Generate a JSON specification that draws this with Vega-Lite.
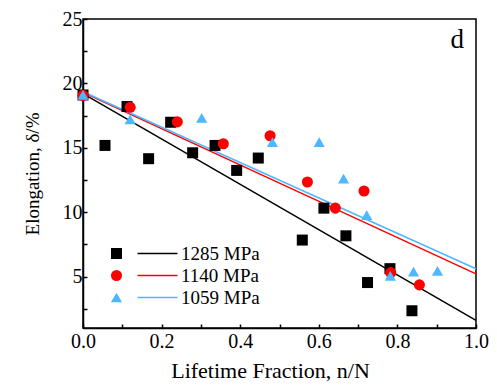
{
  "$schema": "https://vega.github.io/schema/vega-lite/v6.json",
  "width": 393,
  "height": 309,
  "autosize": {"type": "none"},
  "padding": {"left": 83, "top": 19, "right": 21, "bottom": 57},
  "background": "white",
  "config": {
    "view": {"stroke": "black", "strokeWidth": 1.5},
    "font": "Liberation Serif",
    "axis": {
      "grid": false,
      "labelFlush": false,
      "domainColor": "black",
      "domainWidth": 1.5,
      "tickColor": "black",
      "tickWidth": 1.5,
      "labelColor": "black",
      "labelFont": "Liberation Serif",
      "labelFontSize": 20,
      "titleFont": "Liberation Serif",
      "titleFontSize": 22,
      "titleFontWeight": "normal",
      "titleColor": "black"
    }
  },
  "datasets": {
    "points": [
      {"series": "1285", "x": 0.0, "y": 19.1},
      {"series": "1285", "x": 0.056, "y": 15.18},
      {"series": "1285", "x": 0.112, "y": 18.2},
      {"series": "1285", "x": 0.167, "y": 14.15},
      {"series": "1285", "x": 0.223, "y": 16.98},
      {"series": "1285", "x": 0.279, "y": 14.61},
      {"series": "1285", "x": 0.336, "y": 15.18},
      {"series": "1285", "x": 0.391, "y": 13.24},
      {"series": "1285", "x": 0.446, "y": 14.2},
      {"series": "1285", "x": 0.558, "y": 7.83},
      {"series": "1285", "x": 0.613, "y": 10.31},
      {"series": "1285", "x": 0.669, "y": 8.16},
      {"series": "1285", "x": 0.724, "y": 4.53},
      {"series": "1285", "x": 0.781, "y": 5.61},
      {"series": "1285", "x": 0.837, "y": 2.34},
      {"series": "1140", "x": 0.0, "y": 19.07},
      {"series": "1140", "x": 0.12, "y": 18.14},
      {"series": "1140", "x": 0.24, "y": 17.01},
      {"series": "1140", "x": 0.357, "y": 15.31},
      {"series": "1140", "x": 0.476, "y": 15.93},
      {"series": "1140", "x": 0.571, "y": 12.34},
      {"series": "1140", "x": 0.642, "y": 10.31},
      {"series": "1140", "x": 0.715, "y": 11.64},
      {"series": "1140", "x": 0.783, "y": 5.3},
      {"series": "1140", "x": 0.856, "y": 4.35},
      {"series": "1059", "x": 0.0, "y": 19.1},
      {"series": "1059", "x": 0.12, "y": 17.2},
      {"series": "1059", "x": 0.302, "y": 17.32},
      {"series": "1059", "x": 0.482, "y": 15.44},
      {"series": "1059", "x": 0.601, "y": 15.44},
      {"series": "1059", "x": 0.663, "y": 12.6},
      {"series": "1059", "x": 0.722, "y": 9.76},
      {"series": "1059", "x": 0.782, "y": 5.05},
      {"series": "1059", "x": 0.841, "y": 5.38},
      {"series": "1059", "x": 0.902, "y": 5.43}
    ],
    "fits": [
      {"fit": "1285 MPa", "x": 0.0, "y": 19.2},
      {"fit": "1285 MPa", "x": 1.0, "y": 1.6},
      {"fit": "1140 MPa", "x": 0.0, "y": 19.3},
      {"fit": "1140 MPa", "x": 1.0, "y": 5.2},
      {"fit": "1059 MPa", "x": 0.0, "y": 19.35},
      {"fit": "1059 MPa", "x": 1.0, "y": 5.6}
    ],
    "panel": [
      {"label": "d", "x": 0.952, "y": 23.4}
    ]
  },
  "encoding": {
    "x": {
      "field": "x", "type": "quantitative",
      "scale": {"domain": [0, 1], "nice": false, "zero": false},
      "axis": {
        "title": "Lifetime Fraction, n/N",
        "titleX": 187,
        "values": [0, 0.1, 0.2, 0.3, 0.4, 0.5, 0.6, 0.7, 0.8, 0.9, 1.0],
        "format": ".1f",
        "labelExpr": "round(datum.value * 10) % 2 === 0 ? datum.label : ''",
        "tickSize": -4,
        "labelPadding": 7,
        "titlePadding": 9
      }
    },
    "y": {
      "field": "y", "type": "quantitative",
      "scale": {"domain": [1, 25], "nice": false, "zero": false},
      "axis": {
        "title": "Elongation, δ/%",
        "titleFontSize": 19,
        "values": [2.5, 5, 7.5, 10, 12.5, 15, 17.5, 20, 22.5, 25],
        "labelExpr": "datum.value % 5 === 0 ? datum.label : ''",
        "tickSize": -4,
        "labelPadding": 5,
        "titlePadding": 20
      }
    }
  },
  "layer": [
    {
      "data": {"name": "fits"},
      "mark": {"type": "line", "strokeWidth": 1.5},
      "encoding": {
        "stroke": {
          "field": "fit", "type": "nominal",
          "scale": {"domain": ["1285 MPa", "1140 MPa", "1059 MPa"], "range": ["#000000", "#ff0000", "#4db8ff"]},
          "legend": {
            "orient": "none", "legendX": 65, "legendY": 225, "title": null,
            "symbolType": "M-4,0H4", "symbolSize": 100, "symbolStrokeWidth": 1.5,
            "labelFont": "Liberation Serif", "labelFontSize": 19, "labelColor": "black",
            "labelOffset": 14, "rowPadding": 2, "padding": 0
          }
        }
      }
    },
    {
      "data": {"name": "points"},
      "mark": {"type": "point", "filled": true, "opacity": 1},
      "encoding": {
        "color": {
          "field": "series", "type": "nominal", "sort": null,
          "scale": {"domain": ["1285", "1140", "1059"], "range": ["#000000", "#ff0000", "#4db8ff"]},
          "legend": {
            "orient": "none", "legendX": 24, "legendY": 225, "title": null,
            "labelExpr": "''", "labelFontSize": 19, "rowPadding": 2, "padding": 0, "symbolOpacity": 1
          }
        },
        "shape": {
          "field": "series", "type": "nominal", "sort": null,
          "scale": {"domain": ["1285", "1140", "1059"], "range": ["square", "circle", "triangle-up"]},
          "legend": {
            "orient": "none", "legendX": 24, "legendY": 225, "title": null,
            "labelExpr": "''", "labelFontSize": 19, "rowPadding": 2, "padding": 0, "symbolOpacity": 1
          }
        },
        "size": {
          "field": "series", "type": "nominal", "sort": null,
          "scale": {"domain": ["1285", "1140", "1059"], "range": [121, 125, 190]},
          "legend": {
            "orient": "none", "legendX": 24, "legendY": 225, "title": null,
            "labelExpr": "''", "labelFontSize": 19, "rowPadding": 2, "padding": 0, "symbolOpacity": 1
          }
        }
      }
    },
    {
      "data": {"name": "panel"},
      "mark": {"type": "text", "font": "Liberation Serif", "fontSize": 27, "baseline": "middle", "align": "center", "color": "black"},
      "encoding": {
        "text": {"field": "label", "type": "nominal"}
      }
    }
  ]
}
